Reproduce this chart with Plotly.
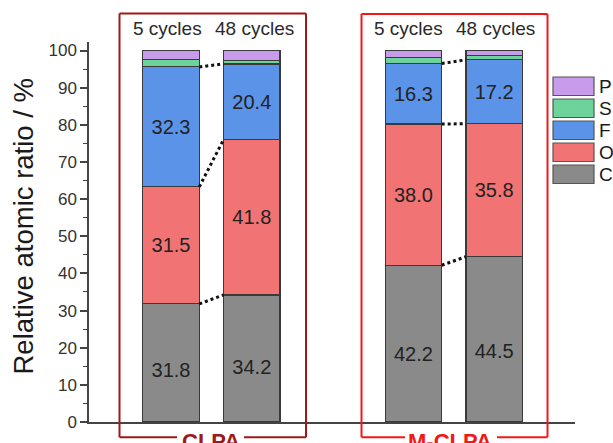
import plotly.graph_objects as go

# ---------------- data ----------------
samples = ["CLPA", "CLPA", "M-CLPA", "M-CLPA"]
cycle_labels = ["5 cycles", "48 cycles", "5 cycles", "48 cycles"]
group_labels = ["CLPA", "M-CLPA"]
elements = ["C", "O", "F", "S", "P"]
C_vals = [31.8, 34.2, 42.2, 44.5]
O_vals = [31.5, 41.8, 38.0, 35.8]
F_vals = [32.3, 20.4, 16.3, 17.2]
S_vals = [2.0, 1.0, 1.6, 1.1]
P_vals = [2.4, 2.6, 1.9, 1.4]
y_ticks = [0, 10, 20, 30, 40, 50, 60, 70, 80, 90, 100]
y_title = "Relative atomic ratio / %"

# ---------------- layout / style ----------------
OFF = 0  # page body margin (removed by post_script)
W, H = 613 - OFF, 443 - OFF
ML, MR, MT, MB = 89 - OFF, 38, 42 - OFF, 21
x_pos = [0, 1, 3, 4]
bar_w = 0.7
x_range = [-1.015, 5.0]
y_range = [0, 102.3]
colors = {"C": "#8a8a8a", "O": "#f27374", "F": "#5b93e8", "S": "#6dd39b", "P": "#c99beb"}
label_font = "Liberation Sans, Arial, sans-serif"
c_label_frac = 0.42            # vertical placement of labels inside the C segment
cycle_xshift = [-4, 3, -5, 1]  # small label nudges (px)

# helpers: page pixel -> paper coordinate
def xp(px):
    return (px - OFF - ML) / (W - ML - MR)

def yp(py):
    return (H - MB - (py - OFF)) / (H - MT - MB)

series = {"C": C_vals, "O": O_vals, "F": F_vals, "S": S_vals, "P": P_vals}

fig = go.Figure()
for el in elements:
    vals = series[el]
    show_text = el in ("O", "F")
    fig.add_trace(go.Bar(
        x=x_pos, y=vals, width=bar_w, name=el,
        marker=dict(color=colors[el], line=dict(color="#3a3a3a", width=1.2)),
        text=[f"{v:.1f}" for v in vals] if show_text else None,
        textposition="inside" if show_text else "none",
        insidetextanchor="middle",
        textangle=0,
        textfont=dict(size=20, color="#222222", family=label_font),
        showlegend=False,
    ))

# labels of the C segments (sit a bit below the segment middle)
fig.add_trace(go.Scatter(
    x=x_pos, y=[v * c_label_frac for v in C_vals], mode="text",
    text=[f"{v:.1f}" for v in C_vals],
    textfont=dict(size=20, color="#222222", family=label_font),
    showlegend=False, hoverinfo="skip",
))

# dotted connectors between the tops of C, O, F segments
for i0, i1 in [(0, 1), (2, 3)]:
    cum0, cum1 = 0.0, 0.0
    for el in ["C", "O", "F"]:
        cum0 += series[el][i0]
        cum1 += series[el][i1]
        fig.add_trace(go.Scatter(
            x=[x_pos[i0] + bar_w / 2, x_pos[i1] - bar_w / 2],
            y=[cum0, cum1], mode="lines",
            line=dict(color="#111111", width=3, dash="dot"),
            showlegend=False, hoverinfo="skip",
        ))

shapes = []
annotations = []

# group boxes
boxes = [
    dict(l=119.5, r=306, t=13.5, b=437.3, gap=(177, 244), cx=210.5, color="#9e1a1a"),
    dict(l=361.5, r=547.5, t=14, b=437.3, gap=(405, 497), cx=450, color="#f21818"),
]
for bx, name in zip(boxes, group_labels):
    segs = [
        (bx["l"], bx["t"], bx["r"], bx["t"]),
        (bx["l"], bx["t"], bx["l"], bx["b"]),
        (bx["r"], bx["t"], bx["r"], bx["b"]),
        (bx["l"], bx["b"], bx["gap"][0], bx["b"]),
        (bx["gap"][1], bx["b"], bx["r"], bx["b"]),
    ]
    for x0, y0, x1, y1 in segs:
        shapes.append(dict(type="line", xref="paper", yref="paper",
                           x0=xp(x0), y0=yp(y0), x1=xp(x1), y1=yp(y1),
                           line=dict(color=bx["color"], width=2)))
    annotations.append(dict(text="<b>" + name + "</b>", xref="paper", yref="paper",
                            x=xp(bx["cx"]), y=yp(441), xanchor="center", yanchor="middle",
                            showarrow=False,
                            font=dict(size=22, color=bx["color"], family=label_font)))

# cycle labels
for xv, lab, dx in zip(x_pos, cycle_labels, cycle_xshift):
    annotations.append(dict(text=lab, xref="x", yref="paper", x=xv, y=yp(28.5), xshift=dx,
                            xanchor="center", yanchor="middle", showarrow=False,
                            font=dict(size=19, color="#2a2a2a", family=label_font)))

# y title
annotations.append(dict(text=y_title, xref="paper", yref="paper", x=xp(23), y=yp(226.5),
                        xanchor="center", yanchor="middle", textangle=-90, showarrow=False,
                        font=dict(size=27.5, color="#1a1a1a", family=label_font)))

# custom legend (top to bottom P, S, F, O, C)
leg_top = 77
for k, el in enumerate(["P", "S", "F", "O", "C"]):
    y0 = leg_top + k * 22
    shapes.append(dict(type="rect", xref="paper", yref="paper",
                       x0=xp(553), x1=xp(594), y0=yp(y0), y1=yp(y0 + 18.5),
                       fillcolor=colors[el], line=dict(color="#555555", width=1.2)))
    annotations.append(dict(text=el, xref="paper", yref="paper", x=xp(597), y=yp(y0 + 9.5),
                            xanchor="left", yanchor="middle", showarrow=False,
                            font=dict(size=19, color="#1a1a1a", family=label_font)))

fig.update_layout(
    width=W, height=H, autosize=False,
    margin=dict(l=ML, r=MR, t=MT, b=MB, pad=0),
    barmode="stack",
    plot_bgcolor="white", paper_bgcolor="white",
    showlegend=False,
    shapes=shapes, annotations=annotations,
    font=dict(family=label_font),
)
fig.update_xaxes(range=x_range, showline=True, linecolor="#444444", linewidth=1.5,
                 showticklabels=False, ticks="", showgrid=False, zeroline=False)
fig.update_yaxes(range=y_range, tickvals=y_ticks, showline=True, linecolor="#444444",
                 linewidth=1.5, ticks="outside", ticklen=7, tickwidth=1.5, tickcolor="#444444",
                 minor=dict(dtick=5, ticks="outside", ticklen=4, tickwidth=1.2, tickcolor="#444444"),
                 tickfont=dict(size=17, color="#333333", family=label_font),
                 showgrid=False, zeroline=False)

fig.write_html("out.html", config={"displayModeBar": False},
               post_script="document.body.style.margin='0';document.body.style.overflow='hidden';")
